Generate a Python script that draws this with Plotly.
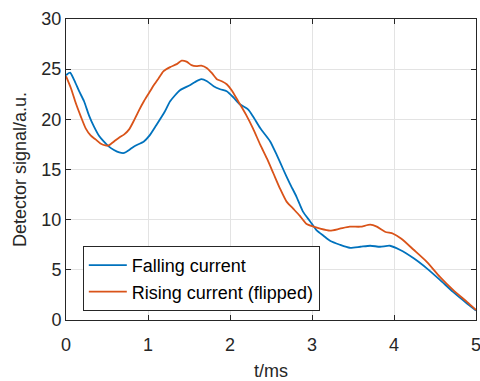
import plotly.graph_objects as go

# Falling current (blue)
t_fall = [0, 0.05, 0.1, 0.16, 0.22, 0.28, 0.34, 0.40, 0.46, 0.52, 0.585, 0.65, 0.71, 0.77, 0.83,
          0.95, 1.02, 1.1, 1.2, 1.27, 1.39, 1.51, 1.57, 1.65, 1.72, 1.80, 1.88, 1.96, 2.04, 2.12,
          2.22, 2.28, 2.37, 2.49, 2.57, 2.65, 2.73, 2.81, 2.89, 2.98, 3.06, 3.14, 3.22, 3.34,
          3.46, 3.59, 3.71, 3.83, 3.95, 4.07, 4.24, 4.40, 4.56, 4.72, 4.89, 5.0]
v_fall = [24.4, 24.65, 23.9, 22.8, 21.8, 20.4, 19.3, 18.4, 17.8, 17.3, 16.95, 16.7, 16.65, 16.95, 17.3,
          17.8, 18.4, 19.4, 20.7, 21.8, 22.9, 23.4, 23.7, 24.0, 23.8, 23.3, 23.0, 22.8, 22.2, 21.5,
          21.0, 20.3, 19.1, 17.8, 16.45, 15.0, 13.6, 12.3, 10.8, 9.8, 8.9, 8.4, 7.9, 7.5,
          7.2, 7.3, 7.4, 7.3, 7.4, 7.0, 6.15, 5.15, 4.0, 2.8, 1.65, 0.95]

# Rising current, flipped (orange)
t_rise = [0, 0.06, 0.12, 0.18, 0.24, 0.30, 0.36, 0.42, 0.48, 0.52, 0.585, 0.65, 0.71, 0.77, 0.83,
          0.89, 0.95, 1.01, 1.07, 1.13, 1.19, 1.27, 1.35, 1.41, 1.47, 1.53, 1.59, 1.65, 1.72, 1.78,
          1.84, 1.90, 1.96, 2.02, 2.10, 2.20, 2.28, 2.37, 2.45, 2.53, 2.61, 2.69, 2.77, 2.85, 2.93,
          3.02, 3.10, 3.22, 3.34, 3.46, 3.59, 3.71, 3.79, 3.89, 3.99, 4.09, 4.24, 4.40, 4.56, 4.72,
          4.89, 5.0]
v_rise = [24.3, 23.1, 21.6, 20.3, 19.1, 18.4, 18.0, 17.6, 17.4, 17.4, 17.8, 18.2, 18.5, 19.0, 19.9,
          20.9, 21.8, 22.6, 23.4, 24.1, 24.8, 25.2, 25.5, 25.85, 25.75, 25.4, 25.3, 25.35, 25.1, 24.6,
          24.0, 23.8, 23.5, 22.9, 21.8, 20.4, 19.1, 17.45, 16.1, 14.6, 13.1, 11.8, 11.1, 10.4, 9.6,
          9.3, 9.1, 8.9, 9.1, 9.3, 9.3, 9.5, 9.3, 8.8, 8.6, 8.1, 7.0, 5.8, 4.3, 3.0,
          1.8, 1.0]

series_names = ["Falling current", "Rising current (flipped)"]
x_ticks = [0, 1, 2, 3, 4, 5]
y_ticks = [0, 5, 10, 15, 20, 25, 30]

FONT = "Liberation Sans, Arial, Helvetica, sans-serif"
AX = "#262626"
FS = 18

fig = go.Figure()
fig.add_trace(go.Scatter(x=t_fall, y=v_fall, mode="lines", name=series_names[0],
                         line=dict(color="#0072BD", width=1.8, shape="spline", smoothing=0.6)))
fig.add_trace(go.Scatter(x=t_rise, y=v_rise, mode="lines", name=series_names[1],
                         line=dict(color="#D95319", width=1.8, shape="spline", smoothing=0.6)))

axis_common = dict(showline=True, linecolor=AX, linewidth=1, mirror="ticks",
                   ticks="inside", ticklen=5, tickcolor=AX, tickwidth=1,
                   showgrid=True, gridcolor="#e3e3e3", gridwidth=1, zeroline=False,
                   automargin=False, ticklabeloverflow="allow",
                   tickfont=dict(family=FONT, size=FS, color=AX))

fig.update_xaxes(range=[0, 5], tickvals=x_ticks, ticklabelstandoff=8,
                 title=dict(text="t/ms", font=dict(family=FONT, size=FS, color=AX), standoff=12),
                 **axis_common)
fig.update_yaxes(range=[0, 30], tickvals=y_ticks,
                 title=dict(text="Detector signal/a.u.", font=dict(family=FONT, size=FS, color=AX), standoff=10),
                 **axis_common)

fig.update_layout(
    width=480, height=381,
    margin=dict(l=66, r=4, t=19, b=61),
    paper_bgcolor="white", plot_bgcolor="white",
    font=dict(family=FONT, size=FS, color=AX),
    showlegend=True,
    legend=dict(x=0.041, y=0.246, xanchor="left", yanchor="top",
                bgcolor="white", bordercolor=AX, borderwidth=1,
                font=dict(family=FONT, size=FS, color="black"),
                itemwidth=38, tracegroupgap=0),
)

fig.write_html("out.html", config={"displayModeBar": False},
               post_script="document.body.style.margin='0';document.body.style.padding='0';"
                           "document.documentElement.style.overflow='hidden';")
